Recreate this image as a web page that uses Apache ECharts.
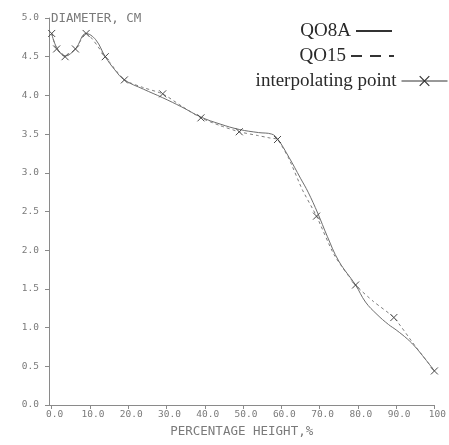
<!DOCTYPE html>
<html>
<head>
<meta charset="utf-8">
<script src="https://cdn.jsdelivr.net/npm/echarts@6/dist/echarts.min.js"></script>
<style>
  html, body { margin: 0; padding: 0; background: #ffffff; }
  #chart { width: 449px; height: 445px; }
</style>
</head>
<body>
<div id="chart"></div>
<script>
// Tick positions and their printed labels
const xTicks = [0, 10, 20, 30, 40, 50, 60, 70, 80, 90, 100];
const xTickLabels = ['0.0', '10.0', '20.0', '30.0', '40.0', '50.0', '60.0', '70.0', '80.0', '90.0', '100'];
const yTickLabels = ['0.0', '0.5', '1.0', '1.5', '2.0', '2.5', '3.0', '3.5', '4.0', '4.5', '5.0'];

// QO8A stem profile (smooth fit): percentage height vs diameter in cm
const qo8aHeight   = [0, 1.3, 3.5, 6.2, 9, 11.5, 14, 16.5, 19, 24, 29, 34, 39, 44, 49, 54, 57.5, 59, 62, 65, 67, 69.5, 72, 75, 79.4, 82, 85, 88, 90, 93, 95, 97.5, 100];
const qo8aDiameter = [4.80, 4.62, 4.51, 4.60, 4.80, 4.72, 4.50, 4.33, 4.20, 4.08, 3.97, 3.85, 3.72, 3.63, 3.56, 3.52, 3.50, 3.44, 3.20, 2.93, 2.75, 2.48, 2.18, 1.86, 1.55, 1.33, 1.17, 1.04, 0.97, 0.85, 0.75, 0.60, 0.44];

// QO15 stem profile
const qo15Height   = [0, 1.3, 3.5, 6.2, 9, 14, 19, 24, 29, 34, 39, 44, 49, 54, 57, 59, 62, 65.5, 69.2, 73.8, 79.4, 84, 89.4, 95, 100];
const qo15Diameter = [4.80, 4.60, 4.50, 4.60, 4.80, 4.50, 4.20, 4.10, 4.02, 3.86, 3.71, 3.61, 3.53, 3.48, 3.45, 3.43, 3.18, 2.78, 2.44, 1.94, 1.55, 1.34, 1.13, 0.76, 0.44];

// Interpolating points
const pointHeight   = [0, 1.3, 3.5, 6.2, 9, 14, 19, 29, 39, 49, 59, 69.2, 79.4, 89.4, 100];
const pointDiameter = [4.80, 4.60, 4.50, 4.60, 4.80, 4.50, 4.20, 4.02, 3.71, 3.53, 3.43, 2.44, 1.55, 1.13, 0.44];

const pairs = (xs, ys) => xs.map((x, i) => [x, ys[i]]);

const axisGray = '#8a8a8a';
const labelGray = '#7a7a7a';
const monoFont = '"DejaVu Sans Mono", "Liberation Mono", monospace';
const serifFont = '"Liberation Serif", "DejaVu Serif", serif';
const crossPath = 'path://M0,0L10,10M10,0L0,10';

const legendText = { fontFamily: serifFont, fontSize: 19, color: '#2a2a2a', lineHeight: 20 };
const hiddenMarker = { opacity: 0 };

const chart = echarts.init(document.getElementById('chart'), null, { renderer: 'canvas' });

chart.setOption({
  backgroundColor: '#ffffff',
  animation: false,
  grid: { left: 49, right: 7, top: 18, bottom: 40, containLabel: false },
  legend: [
    {
      data: [{ name: 'QO8A', itemStyle: hiddenMarker, lineStyle: { color: '#333333' } }],
      right: 56, top: 21, padding: 0, align: 'right',
      itemWidth: 36, itemHeight: 12, itemGap: 0,
      textStyle: legendText, selectedMode: false
    },
    {
      data: [{ name: 'QO15', itemStyle: hiddenMarker, lineStyle: { type: [11, 8], color: '#333333' } }],
      right: 54, top: 46, padding: 0, align: 'right',
      itemWidth: 43, itemHeight: 12, itemGap: 0,
      textStyle: legendText, selectedMode: false
    },
    {
      data: [{
        name: 'interpolating point',
        lineStyle: { opacity: 1, width: 1, color: '#333333', type: 'solid' },
        itemStyle: { color: 'none', borderColor: '#333333', borderWidth: 1.2 }
      }],
      right: 1, top: 71, padding: 0, align: 'right',
      itemWidth: 46, itemHeight: 12, itemGap: 0,
      textStyle: legendText, selectedMode: false
    }
  ],
  xAxis: {
    type: 'value',
    min: -0.7,
    max: 100,
    name: 'PERCENTAGE HEIGHT,%',
    nameLocation: 'middle',
    nameGap: 27,
    nameTextStyle: { fontFamily: monoFont, fontSize: 12.5, color: labelGray, verticalAlign: 'middle' },
    axisLine: { show: true, onZero: false, lineStyle: { color: axisGray, width: 1 } },
    axisTick: { show: true, inside: false, length: 4, customValues: xTicks, lineStyle: { color: axisGray } },
    axisLabel: {
      show: true, customValues: xTicks, margin: 5,
      fontFamily: monoFont, fontSize: 9.5, color: labelGray, padding: [0, 0, 0, 6],
      formatter: v => xTickLabels[xTicks.indexOf(Math.round(v))] ?? ''
    },
    splitLine: { show: false }
  },
  yAxis: {
    type: 'value',
    min: 0,
    max: 5,
    interval: 0.5,
    name: 'DIAMETER, CM',
    nameLocation: 'end',
    nameGap: -1,
    nameTextStyle: { fontFamily: monoFont, fontSize: 12.5, color: labelGray, align: 'left', verticalAlign: 'middle', padding: [0, 0, 0, 2] },
    axisLine: { show: true, onZero: false, lineStyle: { color: axisGray, width: 1 } },
    axisTick: { show: true, inside: false, length: 4, lineStyle: { color: axisGray } },
    axisLabel: {
      show: true, margin: 10,
      fontFamily: monoFont, fontSize: 9.5, color: labelGray,
      formatter: v => yTickLabels[Math.round(v * 2)] ?? ''
    },
    splitLine: { show: false }
  },
  series: [
    {
      name: 'QO8A',
      type: 'line',
      data: pairs(qo8aHeight, qo8aDiameter),
      smooth: 0.4,
      symbol: 'none',
      lineStyle: { color: '#6e6e6e', width: 1 },
      itemStyle: { color: '#6e6e6e' },
      z: 2
    },
    {
      name: 'QO15',
      type: 'line',
      data: pairs(qo15Height, qo15Diameter),
      smooth: 0.2,
      symbol: 'none',
      lineStyle: { color: '#7c7c7c', width: 1, type: [3, 3] },
      itemStyle: { color: '#7c7c7c' },
      z: 3
    },
    {
      name: 'interpolating point',
      type: 'line',
      data: pairs(pointHeight, pointDiameter),
      symbol: crossPath,
      symbolSize: 7,
      showSymbol: true,
      lineStyle: { opacity: 0, width: 0 },
      itemStyle: { color: 'none', borderColor: '#4a4a4a', borderWidth: 1 },
      z: 4
    }
  ]
});
</script>
</body>
</html>
